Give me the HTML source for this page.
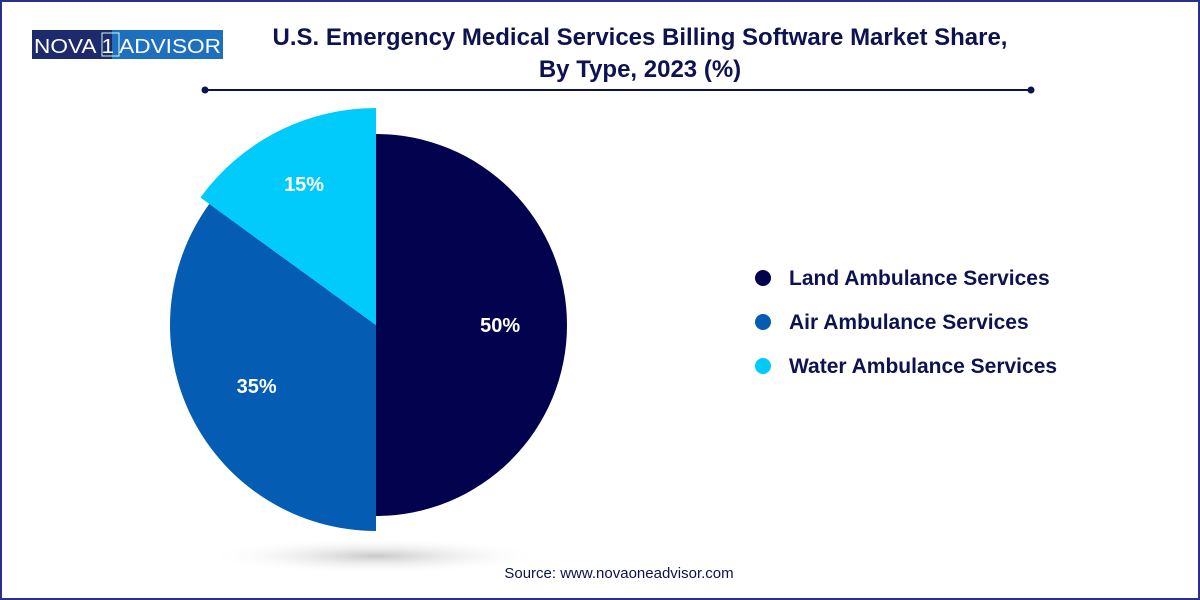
<!DOCTYPE html>
<html><head><meta charset="utf-8"><style>
body{margin:0;background:#fff}
#wrap{position:relative;width:1200px;height:600px;box-sizing:border-box;border:2px solid #2a2f8a;overflow:hidden;font-family:"Liberation Sans",sans-serif}
</style></head><body>
<div id="wrap">
<svg width="1196" height="596" viewBox="2 2 1196 596">
<defs><radialGradient id="sh" cx="50%" cy="50%" r="50%"><stop offset="0" stop-color="#bbb" stop-opacity="0.8"/><stop offset="1" stop-color="#fff" stop-opacity="0"/></radialGradient></defs>
<g>
<rect x="32" y="30" width="80" height="29" fill="#1d2a6b"/><rect x="112" y="30" width="111" height="29" fill="#1f6fbf"/>
<rect x="102" y="33" width="17" height="23" fill="none" stroke="#cfe" stroke-width="1"/>
<text x="34" y="53" font-size="20" fill="#fff" textLength="187" lengthAdjust="spacingAndGlyphs">NOVA 1 ADVISOR</text>
</g>
<text x="640" y="45" text-anchor="middle" font-size="24" font-weight="bold" fill="#0d1250">U.S. Emergency Medical Services Billing Software Market Share,</text>
<text x="640" y="77" text-anchor="middle" font-size="24" font-weight="bold" fill="#0d1250">By Type, 2023 (%)</text>
<line x1="205" y1="90" x2="1031" y2="90" stroke="#0d1250" stroke-width="2"/>
<circle cx="205" cy="90" r="3.5" fill="#0d1250"/><circle cx="1031" cy="90" r="3.5" fill="#0d1250"/>
<ellipse cx="376" cy="556" rx="170" ry="18" fill="url(#sh)"/>
<g id="pie"></g>
<g id="legend"></g>
<text x="619" y="578" text-anchor="middle" font-size="15" fill="#0d1250">Source: www.novaoneadvisor.com</text>
</svg>
</div>
<script>
const categories=["Land Ambulance Services","Air Ambulance Services","Water Ambulance Services"];
const values=[50,35,15];
const labels=["50%","35%","15%"];
const colors=["#02024f","#045db3","#00cbfa"];
const radii=[191,206,217];
const cx=376,cy=325,ns="http://www.w3.org/2000/svg";
const pie=document.getElementById('pie'),leg=document.getElementById('legend');
const total=values.reduce((a,b)=>a+b,0);
let a0=0;
values.forEach((v,i)=>{
 const a1=a0+v/total*2*Math.PI,r=radii[i];
 const p=(a,rr)=>[cx+rr*Math.sin(a),cy-rr*Math.cos(a)];
 const [x0,y0]=p(a0,r),[x1,y1]=p(a1,r);
 const path=document.createElementNS(ns,'path');
 path.setAttribute('d',`M${cx},${cy}L${x0},${y0}A${r},${r} 0 ${a1-a0>Math.PI?1:0} 1 ${x1},${y1}Z`);
 path.setAttribute('fill',colors[i]);
 
 
 pie.appendChild(path);
 const am=(a0+a1)/2,[lx,ly]=p(am,r*(i==2?0.73:0.65));
 const t=document.createElementNS(ns,'text');
 t.setAttribute('x',lx);t.setAttribute('y',ly+7);t.setAttribute('text-anchor','middle');
 t.setAttribute('font-size','20');t.setAttribute('font-weight','bold');t.setAttribute('fill','#fff');
 t.textContent=labels[i];
 
 
 pie.appendChild(t);
 const y=278+i*44;
 const c=document.createElementNS(ns,'circle');
 c.setAttribute('cx',763);c.setAttribute('cy',y);c.setAttribute('r',8);c.setAttribute('fill',colors[i]);
 
 
 leg.appendChild(c);
 const lt=document.createElementNS(ns,'text');
 lt.setAttribute('x',789);lt.setAttribute('y',y+7);lt.setAttribute('font-size','21');lt.setAttribute('font-weight','bold');lt.setAttribute('fill','#0d1250');
 lt.textContent=categories[i];
 
 
 leg.appendChild(lt);
 a0=a1;
});
</script>
</body></html>
